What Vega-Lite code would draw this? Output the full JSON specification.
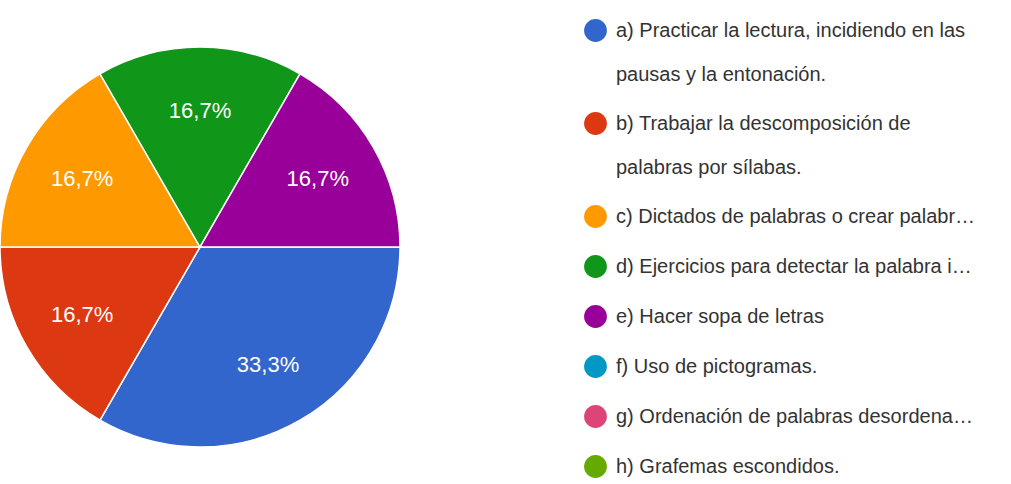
{
  "$schema": "https://vega.github.io/schema/vega-lite/v6.json",
  "autosize": {"type": "none"},
  "width": 400,
  "height": 474,
  "padding": {"left": 0, "top": 10, "right": 611, "bottom": 0},
  "background": "white",
  "config": {"view": {"stroke": null}, "font": "Liberation Sans"},
  "data": {
    "values": [
      {"opcion": "a) Practicar la lectura, incidiendo en las|pausas y la entonación.", "n": 2, "pct": "33,3%"},
      {"opcion": "b) Trabajar la descomposición de|palabras por sílabas.", "n": 1, "pct": "16,7%"},
      {"opcion": "c) Dictados de palabras o crear palabr…", "n": 1, "pct": "16,7%"},
      {"opcion": "d) Ejercicios para detectar la palabra i…", "n": 1, "pct": "16,7%"},
      {"opcion": "e) Hacer sopa de letras", "n": 1, "pct": "16,7%"},
      {"opcion": "f) Uso de pictogramas.", "n": 0, "pct": ""},
      {"opcion": "g) Ordenación de palabras desordena…", "n": 0, "pct": ""},
      {"opcion": "h) Grafemas escondidos.", "n": 0, "pct": ""}
    ]
  },
  "transform": [{"filter": "datum.n > 0"}],
  "encoding": {
    "theta": {"field": "n", "type": "quantitative", "stack": true, "scale": {"range": [1.5708, 7.85398]}},
    "order": {"field": "opcion", "type": "nominal", "sort": "ascending"},
    "color": {
      "field": "opcion",
      "type": "nominal",
      "scale": {
        "domain": [
          "a) Practicar la lectura, incidiendo en las|pausas y la entonación.",
          "b) Trabajar la descomposición de|palabras por sílabas.",
          "c) Dictados de palabras o crear palabr…",
          "d) Ejercicios para detectar la palabra i…",
          "e) Hacer sopa de letras",
          "f) Uso de pictogramas.",
          "g) Ordenación de palabras desordena…",
          "h) Grafemas escondidos."
        ],
        "range": ["#3366cc", "#dc3912", "#ff9900", "#109618", "#990099", "#0099c6", "#dd4477", "#66aa00"]
      },
      "legend": {
        "title": null,
        "orient": "none",
        "legendX": 584,
        "legendY": 9,
        "symbolType": "circle",
        "symbolSize": 520,
        "symbolStrokeWidth": 0,
        "symbolOpacity": 1,
        "labelFont": "Liberation Sans",
        "labelFontSize": 20,
        "labelColor": "#333333",
        "labelLimit": 600,
        "labelOffset": 9,
        "rowPadding": 27,
        "labelExpr": "indexof(datum.label, '|') >= 0 ? [split(datum.label, '|')[0], '\u2800', split(datum.label, '|')[1]] : datum.label"
      }
    }
  },
  "layer": [
    {"mark": {"type": "arc", "outerRadius": 200, "stroke": "white", "strokeWidth": 1.5}},
    {
      "mark": {"type": "text", "radius": 136, "fill": "white", "fontSize": 22, "font": "Liberation Sans"},
      "encoding": {"text": {"field": "pct", "type": "nominal"}}
    }
  ]
}
